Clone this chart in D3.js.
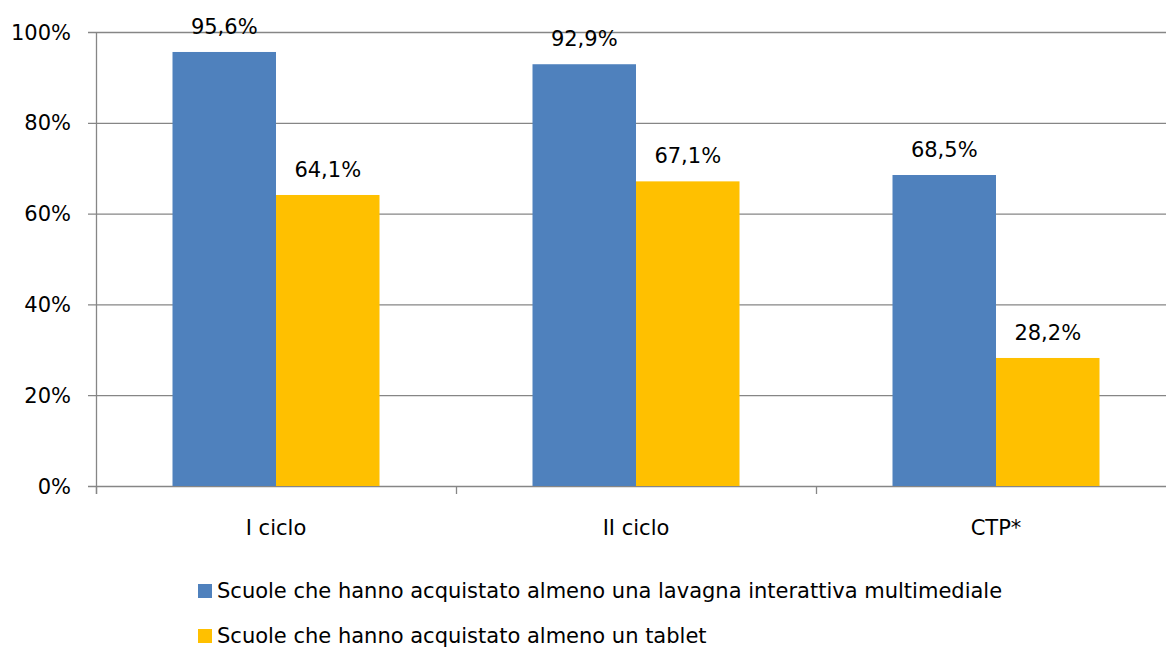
<!DOCTYPE html>
<html>
<head>
<meta charset="utf-8">
<script src="https://cdn.jsdelivr.net/npm/d3@7"></script>
<style>
  body { margin: 0; background: #fff; }
  text { font-family: "DejaVu Sans", Verdana, sans-serif; fill: #000; }
</style>
</head>
<body>
<div id="chart-area"></div>
<script>
// data
var categories = ["I ciclo", "II ciclo", "CTP*"];
var seriesNames = [
  "Scuole che hanno acquistato almeno una lavagna interattiva multimediale",
  "Scuole che hanno acquistato almeno un tablet"
];
var lavagna = [95.6, 92.9, 68.5];
var tablet = [64.1, 67.1, 28.2];
var yTicks = [0, 20, 40, 60, 80, 100];
var colors = ["#4F81BD", "#FFC000"];

var width = 1166, height = 647;
var fs = "21px";
var svg = d3.select("#chart-area").append("svg")
  .attr("width", width).attr("height", height);

var x0 = d3.scaleBand().domain(categories).range([96, 1176]).paddingInner(0).paddingOuter(0);
var y = d3.scaleLinear().domain([0, 100]).range([486, 32]);

// gridlines + y labels
svg.selectAll(".grid").data(yTicks).enter().append("line")
  .attr("x1", 88).attr("x2", width)
  .attr("y1", d => y(d) + 0.5).attr("y2", d => y(d) + 0.5)
  .attr("stroke", "#868686").attr("stroke-width", 1.3);

svg.selectAll(".ylab").data(yTicks).enter().append("text")
  .attr("x", 71).attr("y", d => y(d)).attr("dy", "0.36em")
  .attr("text-anchor", "end").style("font-size", fs)
  .text(d => d + "%");

// y axis line
svg.append("line").attr("x1", 96.5).attr("x2", 96.5).attr("y1", 32).attr("y2", 494)
  .attr("stroke", "#868686").attr("stroke-width", 1.3);

// category ticks
svg.selectAll(".xtick").data(categories).enter().append("line")
  .attr("x1", d => x0(d) + 0.5).attr("x2", d => x0(d) + 0.5)
  .attr("y1", 486).attr("y2", 494)
  .attr("stroke", "#868686").attr("stroke-width", 1.3);

var barW = 103.5;
var rows = categories.map((c, i) => ({cat: c, vals: [lavagna[i], tablet[i]]}));

var grp = svg.selectAll(".grp").data(rows).enter().append("g")
  .attr("transform", d => "translate(" + (x0(d.cat) + x0.bandwidth() / 2) + ",0)");

grp.selectAll("rect").data(d => d.vals).enter().append("rect")
  .attr("x", (d, i) => (i - 1) * barW)
  .attr("width", barW)
  .attr("y", d => y(d))
  .attr("height", d => y(0) - y(d))
  .attr("fill", (d, i) => colors[i]);

grp.selectAll(".val").data(d => d.vals).enter().append("text")
  .attr("x", (d, i) => (i - 0.5) * barW)
  .attr("y", d => y(d) - 18)
  .attr("text-anchor", "middle").style("font-size", fs)
  .text(d => d3.format(".1f")(d).replace(".", ",") + "%");

// category labels
svg.selectAll(".xlab").data(categories).enter().append("text")
  .attr("x", d => x0(d) + x0.bandwidth() / 2)
  .attr("y", 535)
  .attr("text-anchor", "middle").style("font-size", fs)
  .text(d => d);

// legend
var leg = svg.selectAll(".leg").data(seriesNames).enter().append("g")
  .attr("transform", (d, i) => "translate(198," + (584 + i * 45) + ")");
leg.append("rect").attr("width", 14).attr("height", 14).attr("fill", (d, i) => colors[i]);
leg.append("text").attr("x", 19).attr("y", 14).style("font-size", fs).text(d => d);
</script>
</body>
</html>
